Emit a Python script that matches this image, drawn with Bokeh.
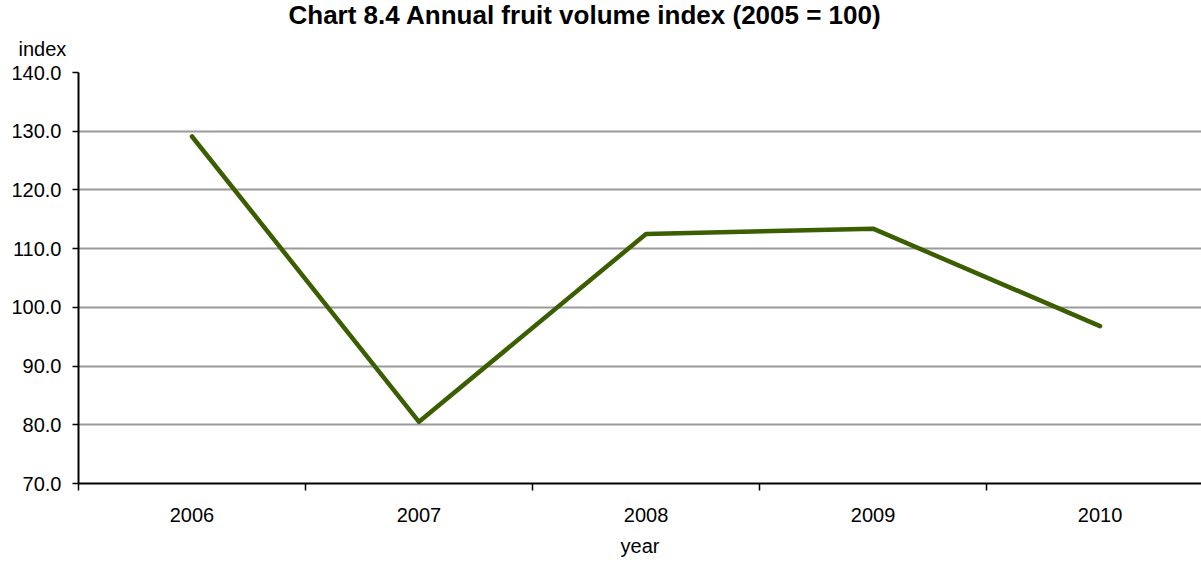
from bokeh.plotting import figure
from bokeh.models import FixedTicker, Range1d, Title
from bokeh.embed import file_html
from bokeh.resources import INLINE

years = ["2006", "2007", "2008", "2009", "2010"]
index_values = [129.1, 80.5, 112.5, 113.4, 96.8]
y_ticks = [70, 80, 90, 100, 110, 120, 130, 140]

FONT = "Liberation Sans"
xs = list(range(1, len(years) + 1))

W, H = 1201, 563
LEFT, TOP, BOTTOM_Y = 78, 71, 483

p = figure(width=W, height=H, output_backend="svg", toolbar_location=None,
           x_range=Range1d(0.5, 5.447), y_range=Range1d(70, 140),
           min_border_left=LEFT, min_border_right=0, min_border_top=TOP,
           min_border_bottom=H - BOTTOM_Y)
p.outline_line_color = None
p.background_fill_color = "white"
p.border_fill_color = "white"

p.line(xs, index_values, line_color="#3a5e00", line_width=4.5, line_cap="round", line_join="round")

# axes
p.xaxis.ticker = FixedTicker(ticks=xs, minor_ticks=[i + 0.5 for i in range(0, len(years) + 1)])
p.xaxis.major_label_overrides = {x: y for x, y in zip(xs, years)}
p.xaxis.major_tick_out = 0
p.xaxis.major_tick_in = 0
p.xaxis.minor_tick_out = 7
p.xaxis.minor_tick_in = 0
p.xaxis.minor_tick_line_color = "black"
p.xaxis.minor_tick_line_width = 1.5
p.xaxis.major_label_standoff = 17
p.xaxis.axis_label = "year"
p.xaxis.axis_label_standoff = 10
p.xaxis.axis_label_text_font = FONT
p.xaxis.axis_label_text_font_size = "20px"
p.xaxis.axis_label_text_font_style = "normal"
p.xaxis.axis_label_text_color = "black"

p.yaxis.ticker = FixedTicker(ticks=y_ticks, minor_ticks=[])
p.yaxis.major_label_overrides = {v: f"{v:.1f}" for v in y_ticks}
p.yaxis.major_tick_out = 6
p.yaxis.major_tick_in = 0
p.yaxis.major_label_standoff = 11

for ax in (p.xaxis, p.yaxis):
    ax.axis_line_color = "black"
    ax.axis_line_width = 2
    ax.major_tick_line_color = "black"
    ax.major_tick_line_width = 1.5
    ax.major_label_text_font = FONT
    ax.major_label_text_font_size = "20px"
    ax.major_label_text_color = "black"

p.xgrid.grid_line_color = None
p.ygrid.ticker = FixedTicker(ticks=y_ticks[1:])
p.ygrid.grid_line_color = "#9a9a9a"
p.ygrid.grid_line_width = 2

# main title on top (left-aligned with an offset so that it sits where the original does)
p.title.text = "Chart 8.4  Annual fruit volume index (2005 = 100)"
p.title.align = "left"
p.title.offset = 210
p.title.text_font = FONT
p.title.text_font_size = "26px"
p.title.text_font_style = "bold"
p.title.text_color = "black"
p.title.standoff = -6

# "index" unit label just under it, over the value axis
p.add_layout(Title(text="index", align="left", offset=18 - LEFT, vertical_align="top",
                   text_font=FONT, text_font_size="20px", text_font_style="normal",
                   text_color="black", standoff=22), "above")

open("out.html", "w").write(file_html(p, INLINE))
